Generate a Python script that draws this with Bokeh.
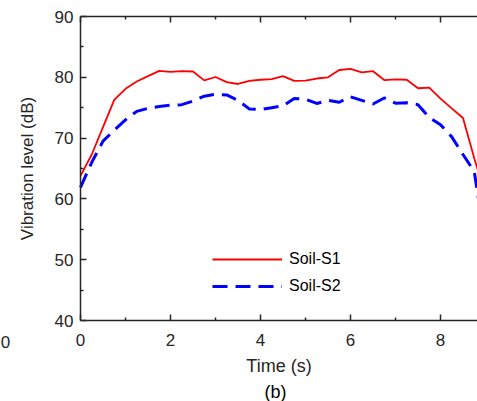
from bokeh.plotting import figure
from bokeh.models import (Range1d, LinearAxis, FixedTicker, Legend, LegendItem, Label)
from bokeh.embed import file_html
from bokeh.resources import INLINE

# ---- data ----
time_s = [0, 0.25, 0.5, 0.75, 1.0, 1.25, 1.5, 1.75, 2.0, 2.25, 2.5, 2.75,
          3.0, 3.25, 3.5, 3.75, 4.0, 4.25, 4.5, 4.75, 5.0, 5.25, 5.5, 5.75,
          6.0, 6.25, 6.5, 6.75, 7.0, 7.25, 7.5, 7.75, 8.0, 8.25, 8.5, 8.75, 9.0]
soil_s1 = [63.8, 67.3, 71.8, 76.3, 78.1, 79.3, 80.2, 81.05, 80.9, 81.0, 80.95, 79.5,
           80.05, 79.2, 78.9, 79.4, 79.6, 79.7, 80.2, 79.4, 79.45, 79.8, 80.0, 81.2,
           81.4, 80.8, 81.0, 79.55, 79.65, 79.6, 78.2, 78.3, 76.5, 74.9, 73.3, 66.7, 60.6]
soil_s2 = [61.9, 66.0, 69.5, 71.3, 73.0, 74.4, 74.9, 75.2, 75.4, 75.5, 76.1, 76.9,
           77.2, 77.1, 76.2, 74.8, 74.7, 75.0, 75.3, 76.5, 76.4, 75.7, 76.2, 75.9,
           76.8, 76.2, 75.6, 76.6, 75.75, 75.8, 75.5, 73.4, 72.2, 70.2, 67.3, 64.5, 52.5]
x_major = [0, 2, 4, 6, 8]
x_minor = [1, 3, 5, 7]
y_major = [40, 50, 60, 70, 80, 90]
y_minor = [45, 55, 65, 75, 85]
x_lim = (0, 10)
y_lim = (40, 90)

AX = "#262626"
FONT = "Liberation Sans"

# canvas geometry: axes box left edge at 80 px, top at 16 px, bottom at 320 px
W, H = 477, 401
LEFT, TOP, BOTTOM = 80, 16, 320
px_x = 45.0                                             # px per second
px_y = (BOTTOM - TOP) / (y_lim[1] - y_lim[0])           # px per dB

p = figure(width=W, height=H, output_backend="svg", toolbar_location=None,
           x_range=Range1d(x_lim[0] - LEFT / px_x, x_lim[0] + (W - LEFT) / px_x),
           y_range=Range1d(y_lim[0] - (H - BOTTOM) / px_y, y_lim[1] + TOP / px_y),
           x_axis_location=None, y_axis_location=None,
           min_border=0)
p.outline_line_color = None
p.xgrid.visible = False
p.ygrid.visible = False
p.background_fill_color = "white"
p.border_fill_color = "white"

r1 = p.line(time_s, soil_s1, line_color="#FF0000", line_width=1.8)
r2 = p.line(time_s, soil_s2, line_color="#0000FF", line_width=3, line_dash="15 8")


def make_axis(ticks, minors, standoff, loc, bounds):
    ax = LinearAxis(fixed_location=loc, bounds=bounds)
    ax.ticker = FixedTicker(ticks=ticks, minor_ticks=minors)
    ax.axis_line_color = AX
    ax.axis_line_width = 1.5
    ax.major_tick_line_color = AX
    ax.minor_tick_line_color = AX
    ax.major_tick_line_width = 1.5
    ax.minor_tick_line_width = 1.5
    ax.major_tick_in = 6
    ax.major_tick_out = 0
    ax.minor_tick_in = 3
    ax.minor_tick_out = 0
    ax.major_label_text_font = FONT
    ax.major_label_text_font_size = "17px"
    ax.major_label_text_color = AX
    ax.major_label_standoff = standoff
    ax.axis_label_text_font = FONT
    ax.axis_label_text_font_size = "18px"
    ax.axis_label_text_font_style = "normal"
    ax.axis_label_text_color = AX
    return ax


xa = make_axis(x_major, x_minor, 13, y_lim[0], x_lim)
xa.axis_label = "Time (s)"
xa.axis_label_standoff = 7
p.add_layout(xa, "below")

ya = make_axis(y_major, y_minor, 7, x_lim[0], y_lim)
ya.axis_label = "Vibration level (dB)"
ya.axis_label_text_font_size = "17px"
ya.axis_label_standoff = 15
p.add_layout(ya, "left")

top = make_axis(x_major, x_minor, 0, y_lim[1], x_lim)
top.major_label_text_font_size = "0px"
top.major_label_text_alpha = 0
p.add_layout(top, "above")

legend = Legend(items=[LegendItem(label="Soil-S1", renderers=[r1]),
                       LegendItem(label="Soil-S2", renderers=[r2])],
                location=(212, H - 296), padding=0, margin=0,
                border_line_color=None, background_fill_alpha=0,
                glyph_width=70, glyph_height=20, label_height=20,
                label_standoff=7, spacing=7,
                label_text_font=FONT, label_text_font_size="16px",
                label_text_color="black")
p.add_layout(legend, "center")

# panel caption
p.add_layout(Label(x=275, y=H - 391, x_units="screen", y_units="screen", text="(b)",
                   text_font=FONT, text_font_size="18px", text_color="black",
                   text_align="center", text_baseline="middle"))
# tick label of the neighbouring panel, visible at the far left
p.add_layout(Label(x=5, y=H - 341, x_units="screen", y_units="screen", text="0",
                   text_font=FONT, text_font_size="17px", text_color=AX,
                   text_align="center", text_baseline="middle"))

open("out.html", "w").write(file_html(p, INLINE))
